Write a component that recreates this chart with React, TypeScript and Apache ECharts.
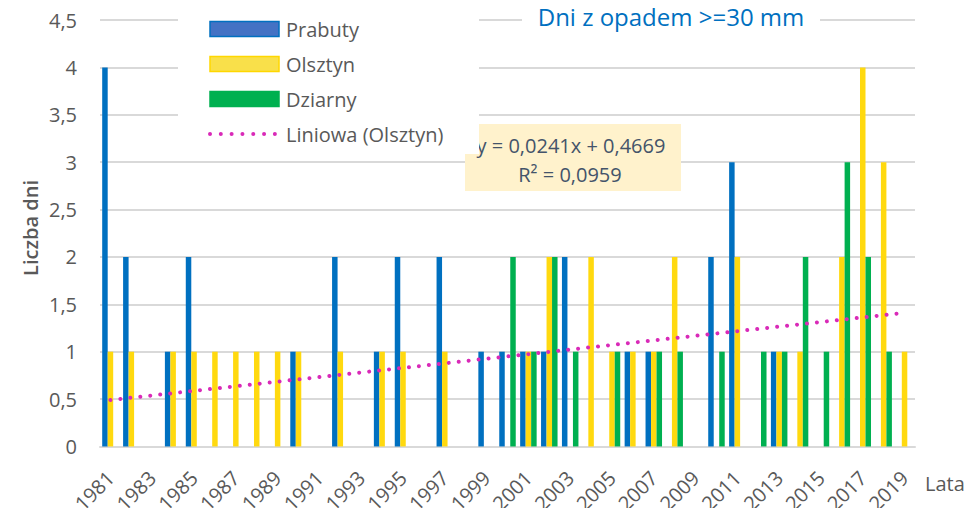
import React, { useEffect, useRef } from "react";
import * as echarts from "echarts";

const years = [
  "1981", "1982", "1983", "1984", "1985", "1986", "1987", "1988", "1989", "1990",
  "1991", "1992", "1993", "1994", "1995", "1996", "1997", "1998", "1999", "2000",
  "2001", "2002", "2003", "2004", "2005", "2006", "2007", "2008", "2009", "2010",
  "2011", "2012", "2013", "2014", "2015", "2016", "2017", "2018", "2019",
];

const prabuty = [
  4, 2, 0, 1, 2, 0, 0, 0, 0, 1,
  0, 2, 0, 1, 2, 0, 2, 0, 1, 1,
  1, 1, 2, 0, 0, 1, 1, 0, 0, 2,
  3, 0, 1, 0, 0, 0, 0, 0, 0,
];

const olsztyn = [
  1, 1, 0, 1, 1, 1, 1, 1, 1, 1,
  0, 1, 0, 1, 1, 0, 1, 0, 0, 0,
  1, 2, 0, 2, 1, 1, 1, 2, 0, 0,
  2, 0, 1, 1, 0, 2, 4, 3, 1,
];

const dziarny = [
  0, 0, 0, 0, 0, 0, 0, 0, 0, 0,
  0, 0, 0, 0, 0, 0, 0, 0, 0, 2,
  1, 2, 1, 0, 1, 0, 1, 1, 0, 1,
  0, 1, 1, 2, 1, 3, 2, 1, 0,
];

// trend line (Liniowa Olsztyn) read at first and last year
const trendStart = 0.49;
const trendEnd = 1.41;

const yTicks = [0, 0.5, 1, 1.5, 2, 2.5, 3, 3.5, 4, 4.5];
const yTickLabels = ["0", "0,5", "1", "1,5", "2", "2,5", "3", "3,5", "4", "4,5"];

const seriesNames = ["Prabuty", "Olsztyn", "Dziarny", "Liniowa (Olsztyn)"];
const titleText = "Dni z opadem >=30 mm";
const yName = "Liczba dni";
const xName = "Lata";
const eqLine1 = "y = 0,0241x + 0,4669";
const eqLine2 = "R² = 0,0959";

const FONT = "'Open Sans', 'DejaVu Sans', sans-serif";
const TREND_COLOR = "#D92AB8";

export default function App() {
  const ref = useRef<HTMLDivElement>(null);

  useEffect(() => {
    if (!ref.current) return;
    const chart = echarts.init(ref.current, undefined, { renderer: "svg" });

    const trend = years.map((_, i) =>
      i === 0 ? trendStart : i === years.length - 1 ? trendEnd : null
    );

    const option: any = {
      animation: false,
      backgroundColor: "#ffffff",
      textStyle: { fontFamily: FONT },
      legend: {
        orient: "vertical",
        left: 203,
        top: 14,
        itemWidth: 69,
        itemHeight: 15,
        itemGap: 15,
        textStyle: {
          color: "#595959",
          fontSize: 20,
          fontFamily: FONT,
          padding: [0, 0, 0, 2],
        },
        data: [
          {
            name: seriesNames[0],
            icon: "rect",
            itemStyle: { color: "#4472C4", borderColor: "#0070C0", borderWidth: 1.5 },
          },
          {
            name: seriesNames[1],
            icon: "rect",
            itemStyle: { color: "#F9E04A", borderColor: "#FFD700", borderWidth: 1.5 },
          },
          {
            name: seriesNames[2],
            icon: "rect",
            itemStyle: { color: "#00B050", borderColor: "#00B050", borderWidth: 1.5 },
          },
          {
            name: seriesNames[3],
            itemStyle: { opacity: 0 },
            lineStyle: { color: TREND_COLOR, width: 4, type: [0.01, 10.8], cap: "round" },
          },
        ],
      },
      grid: { left: 100, right: 58, top: 20, bottom: 68, containLabel: false },
      xAxis: {
        type: "category",
        data: years,
        axisTick: { show: false },
        axisLine: { lineStyle: { color: "#D9D9D9", width: 2 } },
        axisLabel: {
          interval: 1,
          rotate: 45,
          margin: 28,
          color: "#595959",
          fontSize: 20,
          fontFamily: FONT,
        },
      },
      yAxis: {
        type: "value",
        min: 0,
        max: 4.5,
        interval: 0.5,
        axisLine: { show: false },
        axisTick: { show: false },
        splitLine: { lineStyle: { color: "#D9D9D9", width: 2 } },
        axisLabel: {
          margin: 23,
          color: "#595959",
          fontSize: 20,
          fontFamily: FONT,
          formatter: (v: number) => {
            const idx = yTicks.findIndex((t) => Math.abs(t - v) < 1e-9);
            return idx >= 0 ? yTickLabels[idx] : String(v);
          },
        },
      },
      series: [
        {
          name: seriesNames[0],
          type: "bar",
          data: prabuty,
          barWidth: 5.5,
          barGap: "0%",
          itemStyle: { color: "#0070C0" },
        },
        {
          name: seriesNames[1],
          type: "bar",
          data: olsztyn,
          barWidth: 5.5,
          barGap: "0%",
          itemStyle: { color: "#FFD90F" },
        },
        {
          name: seriesNames[2],
          type: "bar",
          data: dziarny,
          barWidth: 5.5,
          barGap: "0%",
          itemStyle: { color: "#00B050" },
        },
        {
          name: seriesNames[3],
          type: "line",
          data: trend,
          connectNulls: true,
          symbol: "none",
          z: 5,
          lineStyle: {
            color: TREND_COLOR,
            width: 4,
            type: [0.01, 10],
            cap: "round",
          },
          itemStyle: { color: TREND_COLOR },
        },
      ],
      graphic: [
        {
          type: "rect",
          z: 3,
          shape: { x: 465, y: 124, width: 216, height: 67 },
          style: { fill: "#FFF2CC" },
        },
        {
          type: "text",
          z: 3,
          x: 571,
          y: 145,
          style: {
            text: eqLine1,
            fill: "#44546A",
            fontSize: 20,
            fontFamily: FONT,
            textAlign: "center",
            textVerticalAlign: "middle",
          },
        },
        {
          type: "text",
          z: 3,
          x: 570,
          y: 174,
          style: {
            text: eqLine2,
            fill: "#44546A",
            fontSize: 20,
            fontFamily: FONT,
            textAlign: "center",
            textVerticalAlign: "middle",
          },
        },
        {
          type: "rect",
          z: 3.5,
          shape: { x: 178, y: 0, width: 301, height: 154 },
          style: { fill: "#ffffff" },
        },
        {
          type: "rect",
          z: 3.5,
          shape: { x: 522, y: 0, width: 298, height: 30 },
          style: { fill: "#ffffff" },
        },
        {
          type: "text",
          z: 4,
          x: 671,
          y: 16,
          style: {
            text: titleText,
            fill: "#0070C0",
            fontSize: 24,
            fontFamily: FONT,
            textAlign: "center",
            textVerticalAlign: "middle",
          },
        },
        {
          type: "text",
          x: 30,
          y: 228,
          rotation: Math.PI / 2,
          style: {
            text: yName,
            fill: "#595959",
            fontSize: 20,
            fontWeight: 600,
            fontFamily: FONT,
            textAlign: "center",
            textVerticalAlign: "middle",
          },
        },
        {
          type: "text",
          x: 925,
          y: 483,
          style: {
            text: xName,
            fill: "#595959",
            fontSize: 20,
            fontFamily: FONT,
            textAlign: "left",
            textVerticalAlign: "middle",
          },
        },
      ],
    };

    chart.setOption(option);
    return () => chart.dispose();
  }, []);

  return <div ref={ref} style={{ width: 973, height: 516, margin: -8 }} />;
}
